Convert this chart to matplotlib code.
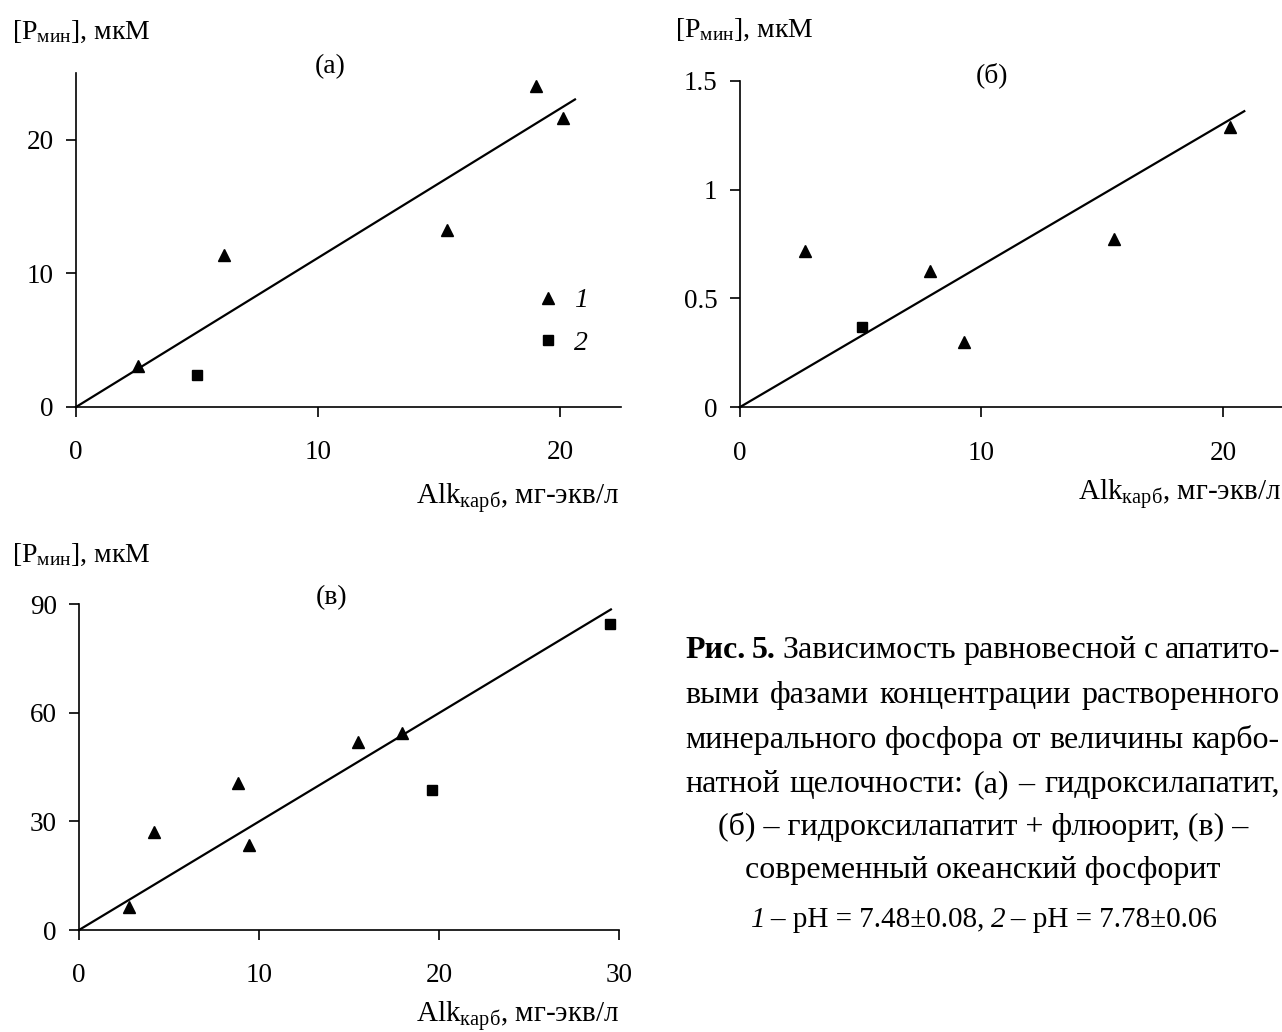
import matplotlib.pyplot as plt
import numpy as np

plt.rcParams['font.family'] = ['Liberation Serif', 'DejaVu Serif']
plt.rcParams['mathtext.fontset'] = 'custom'
plt.rcParams['mathtext.rm'] = 'Liberation Serif'
plt.rcParams['mathtext.it'] = 'Liberation Serif:italic'
plt.rcParams['mathtext.bf'] = 'Liberation Serif:bold'

W, H = 1282, 1032

# (а) гидроксилапатит
a_x1 = [2.55, 6.1, 15.3, 19.0, 20.1]
a_y1 = [3.1, 11.4, 13.2, 24.0, 21.6]
a_x2 = [5.0]
a_y2 = [2.4]
a_fit_x = [0, 20.6]
a_fit_y = [0, 23.0]

# (б) гидроксилапатит + флюорит
b_x1 = [2.72, 7.86, 9.27, 15.5, 20.27]
b_y1 = [0.72, 0.624, 0.298, 0.773, 1.287]
b_x2 = [5.08]
b_y2 = [0.371]
b_fit_x = [0, 20.87]
b_fit_y = [0, 1.36]

# (в) современный океанский фосфорит
c_x1 = [2.8, 4.17, 8.84, 9.45, 15.5, 17.97]
c_y1 = [6.4, 27.1, 40.5, 23.5, 52.0, 54.5]
c_x2 = [19.6, 29.5]
c_y2 = [38.6, 84.5]
c_fit_x = [0, 29.55]
c_fit_y = [0, 88.5]

ylab = r'[P$_{\mathrm{мин}}$], мкМ'
xlab = r'Alk$_{\mathrm{карб}}$, мг-экв/л'

fig = plt.figure(figsize=(W / 100, H / 100), dpi=100)
r = fig.canvas.get_renderer()


def fx(x):
    return x / W


def fy(y):
    return 1 - y / H


def make_axes(left, top, right, bottom, xlim, ylim, xticks, yticks, ylabels):
    ax = fig.add_axes([fx(left), fy(bottom), (right - left) / W, (bottom - top) / H])
    ax.set_xlim(*xlim)
    ax.set_ylim(*ylim)
    ax.spines[['top', 'right']].set_visible(False)
    ax.spines[['left', 'bottom']].set_linewidth(1.2)
    ax.set_xticks(xticks)
    ax.set_yticks(yticks)
    ax.set_yticklabels(ylabels)
    ax.tick_params(direction='out', length=7, width=1.2, labelsize=19.5)
    ax.tick_params(axis='x', pad=17)
    ax.tick_params(axis='y', pad=9)
    return ax


def draw(ax, x1, y1, x2, y2, fit_x, fit_y):
    ax.plot(fit_x, fit_y, color='black', lw=1.6, clip_on=False)
    ax.plot(x1, y1, '^', color='black', ms=9, ls='none', clip_on=False, label='1')
    ax.plot(x2, y2, 's', color='black', ms=7.5, ls='none', clip_on=False, label='2')


ax_a = make_axes(76, 72.7, 621, 407, (0, 22.5), (0, 25), [0, 10, 20], [0, 10, 20], ['0', '10', '20'])
draw(ax_a, a_x1, a_y1, a_x2, a_y2, a_fit_x, a_fit_y)
ax_a.legend(loc='center', bbox_to_anchor=(fx(561), fy(322)), bbox_transform=fig.transFigure,
            frameon=False, handlelength=1.0, handletextpad=0.45, labelspacing=0.62,
            prop={'size': 20, 'style': 'italic', 'family': 'Liberation Serif'})

ax_b = make_axes(739.6, 80.7, 1282, 407.3, (0, 22.43), (0, 1.5), [0, 10, 20], [0, 0.5, 1, 1.5],
                 ['0', '0.5', '1', '1.5'])
draw(ax_b, b_x1, b_y1, b_x2, b_y2, b_fit_x, b_fit_y)

ax_c = make_axes(79, 604, 619, 930, (0, 30), (0, 90), [0, 10, 20, 30], [0, 30, 60, 90],
                 ['0', '30', '60', '90'])
draw(ax_c, c_x1, c_y1, c_x2, c_y2, c_fit_x, c_fit_y)

# axis captions
for x, y in [(12, 39), (675, 37), (12, 562)]:
    fig.text(fx(x), fy(y), ylab, fontsize=20, ha='left', va='baseline')
for x, y in [(619, 504), (1281, 500), (619, 1022)]:
    fig.text(fx(x), fy(y), xlab, fontsize=21, ha='right', va='baseline')
for x, y, s in [(330, 67, '(а)'), (992, 75, '(б)'), (332, 598, '(в)')]:
    fig.text(fx(x), fy(y), s, fontsize=20, ha='center', va='center')

# figure caption
csize = 23


def justify(words, y, x0=685, x1=1280):
    texts = [fig.text(0, fy(y), w, fontsize=csize, fontweight=wt, ha='left', va='baseline')
             for w, wt in words]
    widths = [t.get_window_extent(r).width for t in texts]
    gap = (x1 - x0 - sum(widths)) / (len(texts) - 1)
    x = x0
    for t, w in zip(texts, widths):
        t.set_x(fx(x))
        x += w + gap


def centred_runs(parts, y, cx, size):
    texts = [fig.text(0, fy(y), s, fontsize=size, style=st, ha='left', va='baseline')
             for s, st in parts]
    widths = [t.get_window_extent(r).width for t in texts]
    x = cx - sum(widths) / 2
    for t, w in zip(texts, widths):
        t.set_x(fx(x))
        x += w


line1 = [('Рис.', 'bold'), ('5.', 'bold')] + [(w, 'normal') for w in 'Зависимость равновесной с апатито-'.split()]
justify(line1, 658)
justify([(w, 'normal') for w in 'выми фазами концентрации растворенного'.split()], 703)
justify([(w, 'normal') for w in 'минерального фосфора от величины карбо-'.split()], 748)
justify([(w, 'normal') for w in 'натной щелочности: (а) – гидроксилапатит,'.split()], 792)
fig.text(fx(983), fy(835), '(б) – гидроксилапатит + флюорит, (в) –', fontsize=csize, ha='center', va='baseline')
fig.text(fx(983), fy(878), 'современный океанский фосфорит', fontsize=csize, ha='center', va='baseline')
centred_runs([('1', 'italic'), ('\u2009– pH = 7.48±0.08,\u2009', 'normal'),
              ('2', 'italic'), ('\u2009– pH = 7.78±0.06', 'normal')], 927, 984, 21)

fig.savefig('out.png', dpi=100)
